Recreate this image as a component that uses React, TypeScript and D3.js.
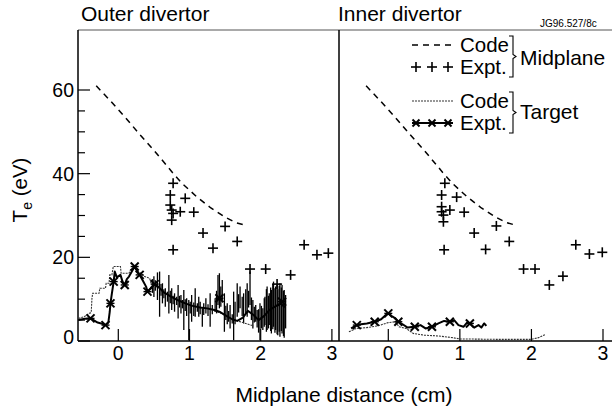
import React from "react";
import * as d3 from "d3";

// ---------- data ----------
const xTicks = [0, 1, 2, 3];
const yMajorTicks = [0, 20, 40, 60];
const yMinorTicks = [5, 10, 15, 25, 30, 35, 45, 50, 55];

// Midplane code (dashed), same in both panels
const midCode: [number, number][] = [
  [-0.31, 61], [-0.1, 57.2], [0.1, 53.4], [0.3, 49.4], [0.5, 45.6], [0.76, 40.3],
  [0.9, 37.6], [1.1, 34.5], [1.3, 31.8], [1.5, 29.6], [1.65, 28.3], [1.8, 27.6],
];

// Midplane experiment (+)
const midExptOuter: [number, number][] = [
  [0.77, 37.7], [0.73, 34.9], [0.94, 34.1], [0.73, 32.5], [0.75, 31.3], [0.87, 30.9],
  [0.77, 30.5], [0.75, 28.9], [1.06, 30.8], [0.77, 21.8], [1.19, 25.8], [1.33, 22.2],
  [1.5, 27.4], [1.67, 23.8], [1.85, 17.2], [2.07, 17.2], [2.23, 13.6], [2.42, 15.8],
  [2.61, 23.0], [2.79, 20.6], [2.95, 21.0],
];
const midExptInner: [number, number][] = [
  [0.79, 37.7], [0.745, 34.9], [0.955, 34.4], [0.745, 32.1], [0.86, 31.3], [0.745, 30.9],
  [0.77, 30.1], [0.77, 28.5], [1.06, 30.8], [0.78, 21.8], [1.2, 25.8], [1.36, 21.9],
  [1.51, 27.5], [1.69, 23.8], [1.89, 17.2], [2.05, 17.2], [2.25, 13.4], [2.44, 15.5],
  [2.62, 23.0], [2.81, 20.8], [2.99, 21.2],
];

// Target code (thin dotted)
const tgtCodeOuter: [number, number][] = [
  [-0.56, 5.4], [-0.48, 5.8], [-0.41, 6.6], [-0.38, 6.8], [-0.37, 10.2], [-0.36, 11.4],
  [-0.27, 11.4], [-0.26, 12.6], [-0.18, 12.6], [-0.17, 13.8], [-0.13, 13.8], [-0.12, 15.8],
  [-0.09, 15.8], [-0.07, 17.8], [0.03, 17.8], [0.04, 16.2], [0.15, 16.2], [0.17, 17.0],
  [0.23, 17.4], [0.3, 16.4], [0.37, 15.4], [0.44, 15.0], [0.46, 13.8], [0.55, 13.0],
  [0.7, 11.0], [0.9, 9.2], [1.1, 8.2], [1.3, 7.5], [1.45, 6.6], [1.6, 5.2], [1.75, 4.4], [1.9, 3.6],
];
const tgtCodeInner: [number, number][] = [
  [-0.55, 2.2], [-0.45, 3.0], [-0.3, 3.2], [-0.15, 3.6], [0.0, 4.4], [0.1, 4.6], [0.15, 3.4],
  [0.25, 3.0], [0.35, 1.8], [0.5, 1.4], [0.7, 1.2], [0.9, 0.8], [1.0, 0.5], [1.5, 0.4],
  [2.0, 0.4], [2.1, 0.8], [2.2, 1.6],
];

// Target experiment (thick line with x markers)
const tgtExptOuter: [number, number][] = [
  [-0.56, 5.0], [-0.47, 5.3], [-0.39, 5.4], [-0.33, 4.8], [-0.29, 4.4], [-0.24, 4.2],
  [-0.18, 3.8], [-0.14, 4.4], [-0.12, 7.0], [-0.11, 9.0], [-0.09, 11.4], [-0.065, 14.2],
  [-0.05, 16.6], [-0.02, 15.2], [0.03, 15.8], [0.06, 14.2], [0.09, 13.4], [0.12, 14.8],
  [0.15, 15.4], [0.19, 16.6], [0.23, 17.8], [0.27, 16.5], [0.3, 15.8], [0.34, 14.6],
  [0.39, 13.0], [0.41, 11.8], [0.45, 12.5], [0.51, 13.6], [0.56, 13.0], [0.64, 11.6],
  [0.74, 10.6], [0.83, 9.8], [0.94, 9.0], [1.04, 8.4], [1.15, 8.0], [1.25, 7.8], [1.35, 7.4],
  [1.42, 7.0], [1.5, 6.2], [1.6, 5.2], [1.67, 4.8], [1.75, 5.6], [1.82, 7.2], [1.9, 6.2],
  [1.97, 5.0], [2.05, 6.0], [2.12, 7.4], [2.2, 8.2], [2.28, 9.0], [2.34, 8.0],
];
const tgtExptOuterMarks: [number, number][] = [
  [-0.39, 5.4], [-0.18, 3.8], [-0.11, 9.0], [-0.065, 14.2], [0.09, 13.4], [0.23, 17.8],
  [0.3, 15.8], [0.41, 11.8], [0.51, 13.6], [1.42, 10.2], [2.3, 9.4],
];
// noisy probe signal: [x, low, high]
const tgtExptOuterSpikes: [number, number, number][] = [
  [0.48, 11.5, 14.8], [0.5, 10.5, 15.5], [0.52, 12.0, 14.5], [0.55, 9.8, 16.4], [0.58, 5.8, 16.6],
  [0.6, 10.8, 13.6], [0.62, 9.0, 13.8], [0.64, 10.2, 12.4], [0.66, 8.2, 12.6], [0.69, 9.4, 11.8],
  [0.71, 6.6, 15.8], [0.73, 9.0, 12.0], [0.75, 7.4, 12.6], [0.77, 8.8, 10.8], [0.79, 7.0, 11.4],
  [0.82, 8.6, 10.6], [0.84, 5.4, 13.4], [0.86, 8.0, 10.8], [0.88, 6.6, 11.0], [0.9, 7.8, 9.8],
  [0.92, 2.6, 12.2], [0.94, 7.2, 10.0], [0.96, 6.0, 10.2], [0.99, 0.2, 9.8], [1.01, 6.6, 9.4],
  [1.03, 4.6, 11.0], [1.06, 6.0, 9.2], [1.08, 5.8, 12.6], [1.11, 7.0, 9.0], [1.13, 5.8, 10.6],
  [1.15, 6.4, 9.4], [1.18, 3.4, 7.8], [1.2, 6.2, 9.0], [1.23, 6.6, 10.2], [1.26, 6.0, 8.8],
  [1.29, 3.4, 11.4], [1.32, 6.4, 8.6], [1.36, 7.0, 10.2], [1.38, 6.6, 12.0], [1.4, 8.6, 15.8],
  [1.42, 7.8, 16.2], [1.44, 8.2, 13.0], [1.46, 9.8, 14.6], [1.49, 2.2, 11.4], [1.51, 5.0, 8.4],
  [1.53, 4.0, 9.0], [1.55, 4.6, 7.2], [1.57, 3.0, 8.6], [1.6, 4.2, 6.4], [1.62, 0.2, 11.8],
  [1.64, 4.0, 9.4], [1.67, 5.8, 13.8], [1.69, 6.8, 11.2], [1.71, 7.8, 13.0], [1.74, 6.0, 10.6],
  [1.76, 4.2, 11.4], [1.79, 6.6, 12.4], [1.81, 5.8, 13.8], [1.83, 8.0, 12.0], [1.85, 8.6, 16.6],
  [1.87, 5.0, 10.4], [1.89, 3.0, 9.8], [1.91, 4.4, 8.2], [1.93, 4.6, 8.6], [1.95, 3.2, 7.4],
  [1.97, 2.0, 7.6], [1.99, 0.2, 9.0], [2.01, 3.0, 8.4], [2.03, 2.6, 7.8], [2.05, 3.4, 10.2],
  [2.06, 3.8, 10.6], [2.08, 2.2, 12.4], [2.09, 2.6, 13.0], [2.11, 3.0, 10.8], [2.12, 3.8, 11.4],
  [2.14, 2.4, 12.8], [2.15, 1.8, 12.2], [2.17, 2.8, 13.6], [2.18, 3.4, 14.2], [2.2, 2.0, 12.6],
  [2.21, 2.6, 13.0], [2.23, 1.6, 13.4], [2.24, 1.4, 12.4], [2.26, 2.2, 13.2], [2.27, 1.0, 13.8],
  [2.29, 2.4, 12.8], [2.3, 1.8, 13.4], [2.32, 1.2, 12.0], [2.33, 0.8, 12.2], [2.35, 3.0, 11.0],
];
const tgtExptInner: [number, number][] = [
  [-0.52, 3.0], [-0.44, 3.8], [-0.38, 4.0], [-0.3, 4.2], [-0.19, 4.6], [-0.1, 5.2],
  [-0.05, 6.0], [0.0, 6.6], [0.06, 5.8], [0.1, 5.4], [0.14, 4.6], [0.2, 4.0], [0.27, 3.2],
  [0.37, 3.4], [0.45, 3.8], [0.52, 3.0], [0.61, 3.4], [0.7, 4.2], [0.78, 4.8], [0.86, 4.6],
  [0.92, 5.0], [0.98, 3.8], [1.05, 3.4], [1.1, 4.4], [1.14, 4.2], [1.2, 3.2], [1.26, 3.8],
  [1.3, 3.2], [1.34, 4.2], [1.37, 3.6],
];
const tgtExptInnerMarks: [number, number][] = [
  [-0.44, 3.8], [-0.19, 4.6], [0.0, 6.6], [0.14, 4.6], [0.37, 3.4], [0.61, 3.4], [0.86, 4.6], [1.14, 4.2],
];

const panelTitles = ["Outer divertor", "Inner divertor"];
const legendRows = ["Code", "Expt.", "Code", "Expt."];
const legendGroups = ["Midplane", "Target"];

// ---------- layout ----------
const W = 612, H = 411;
const top = 30, bottom = 341, left = 78, mid = 339, right = 612;
const FONT = "'Liberation Sans', Arial, Helvetica, sans-serif";

const yS = d3.scaleLinear().domain([0, 60]).range([bottom, 90]);
const xL = d3.scaleLinear().domain([0, 3]).range([118.3, 331.9]);
const xR = d3.scaleLinear().domain([0, 3]).range([388.3, 603]);

function Plus({ x, y, s = 5 }: { x: number; y: number; s?: number }) {
  return (
    <g stroke="#000" strokeWidth={1.6}>
      <line x1={x - s} x2={x + s} y1={y} y2={y} />
      <line x1={x} x2={x} y1={y - s} y2={y + s} />
    </g>
  );
}
function Star({ x, y, s = 4 }: { x: number; y: number; s?: number }) {
  return (
    <g stroke="#000" strokeWidth={2}>
      <line x1={x - s} x2={x + s} y1={y - s} y2={y + s} />
      <line x1={x - s} x2={x + s} y1={y + s} y2={y - s} />
      <line x1={x - s} x2={x + s} y1={y} y2={y} strokeWidth={1.4} />
    </g>
  );
}

function Panel({
  xs, clipId, midExpt, tgtCode, tgtExpt, marks, spikes,
}: {
  xs: d3.ScaleLinear<number, number>;
  clipId: string;
  midExpt: [number, number][];
  tgtCode: [number, number][];
  tgtExpt: [number, number][];
  marks: [number, number][];
  spikes: [number, number, number][];
}) {
  const line = d3.line<[number, number]>().x((d) => xs(d[0])).y((d) => yS(d[1]));
  return (
    <g clipPath={`url(#${clipId})`}>
      <path d={line(midCode) || ""} fill="none" stroke="#000" strokeWidth={1.5} strokeDasharray="6 5" />
      {midExpt.map((d, i) => (
        <Plus key={i} x={xs(d[0])} y={yS(d[1])} />
      ))}
      {spikes.map((d, i) => (
        <line key={i} x1={xs(d[0])} x2={xs(d[0])} y1={yS(d[1])} y2={yS(d[2])} stroke="#000" strokeWidth={1.3} />
      ))}
      <path d={line(tgtCode) || ""} fill="none" stroke="#333" strokeWidth={1.1} strokeDasharray="2 1" />
      <path d={line(tgtExpt) || ""} fill="none" stroke="#000" strokeWidth={2} strokeLinejoin="round" />
      {marks.map((d, i) => (
        <Star key={i} x={xs(d[0])} y={yS(d[1])} />
      ))}
    </g>
  );
}

export default function App() {
  const legX0 = 412, legX1 = 453, legTextX = 460;
  const rowBase = [52, 74, 108, 130];
  const bracket = (y0: number, y1: number) => {
    const bx = 513;
    const ym = (y0 + y1) / 2;
    return `M${bx - 4},${y0} L${bx},${y0} L${bx},${ym - 2} L${bx + 3},${ym} L${bx},${ym + 2} L${bx},${y1} L${bx - 4},${y1}`;
  };
  return (
    <svg width={W} height={H} style={{ position: "absolute", left: 0, top: 0, background: "#fff" }} fontFamily={FONT}>
      <defs>
        <clipPath id="clipL"><rect x={left} y={top} width={mid - left} height={bottom - top} /></clipPath>
        <clipPath id="clipR"><rect x={mid} y={top} width={right - mid} height={bottom - top} /></clipPath>
      </defs>
      <rect x={0} y={0} width={W} height={H} fill="#fff" />

      {/* titles */}
      <text x={81} y={21} fontSize={21}>{panelTitles[0]}</text>
      <text x={338} y={21} fontSize={21}>{panelTitles[1]}</text>
      <text x={540} y={27} fontSize={10}>JG96.527/8c</text>

      {/* frame */}
      <line x1={left} x2={right} y1={top} y2={top} stroke="#555" strokeWidth={1} />
      <line x1={left} x2={left} y1={top} y2={bottom} stroke="#000" strokeWidth={1.5} />
      <line x1={mid} x2={mid} y1={top} y2={bottom} stroke="#000" strokeWidth={1.5} />
      <line x1={left} x2={right} y1={bottom} y2={bottom} stroke="#000" strokeWidth={1.5} />

      {/* y ticks */}
      {yMajorTicks.map((t) => (
        <g key={t}>
          <line x1={left} x2={left + 12} y1={yS(t)} y2={yS(t)} stroke="#000" strokeWidth={1.2} />
          <text x={74} y={yS(t) - (t === 0 ? 4 : 0)} fontSize={19.5} textAnchor="end" dominantBaseline="central">{t}</text>
        </g>
      ))}
      {yMinorTicks.map((t) => (
        <line key={t} x1={left} x2={left + 7} y1={yS(t)} y2={yS(t)} stroke="#000" strokeWidth={1.2} />
      ))}

      {/* x ticks */}
      {[xL, xR].map((xs, k) => (
        <g key={k}>
          {xTicks.map((t) => (
            <g key={t}>
              <line x1={xs(t)} x2={xs(t)} y1={bottom} y2={bottom - 12} stroke="#000" strokeWidth={1.2} />
              <text x={xs(t)} y={360} fontSize={19.5} textAnchor="middle">{t}</text>
            </g>
          ))}
        </g>
      ))}

      {/* data */}
      <Panel xs={xL} clipId="clipL" midExpt={midExptOuter} tgtCode={tgtCodeOuter} tgtExpt={tgtExptOuter}
        marks={tgtExptOuterMarks} spikes={tgtExptOuterSpikes} />
      <Panel xs={xR} clipId="clipR" midExpt={midExptInner} tgtCode={tgtCodeInner} tgtExpt={tgtExptInner}
        marks={tgtExptInnerMarks} spikes={[]} />

      {/* legend */}
      <line x1={legX0} x2={legX1} y1={rowBase[0] - 7} y2={rowBase[0] - 7} stroke="#000" strokeWidth={1.5} strokeDasharray="6 5" />
      {[0, 1, 2].map((i) => (
        <Plus key={i} x={416 + i * 16} y={rowBase[1] - 7} />
      ))}
      <line x1={legX0} x2={legX1} y1={rowBase[2] - 7} y2={rowBase[2] - 7} stroke="#333" strokeWidth={1.1} strokeDasharray="2 1" />
      <line x1={legX0} x2={legX1} y1={rowBase[3] - 7} y2={rowBase[3] - 7} stroke="#000" strokeWidth={1.8} />
      {[0, 1, 2].map((i) => (
        <Star key={i} x={416 + i * 16} y={rowBase[3] - 7} s={3.5} />
      ))}
      {legendRows.map((t, i) => (
        <text key={i} x={legTextX} y={rowBase[i]} fontSize={20.5}>{t}</text>
      ))}
      <path d={bracket(rowBase[0] - 16, rowBase[1] + 3)} fill="none" stroke="#000" strokeWidth={1.1} />
      <path d={bracket(rowBase[2] - 16, rowBase[3] + 3)} fill="none" stroke="#000" strokeWidth={1.1} />
      <text x={520} y={65} fontSize={21}>{legendGroups[0]}</text>
      <text x={520} y={119} fontSize={21}>{legendGroups[1]}</text>

      {/* axis labels */}
      <text transform="translate(27,190) rotate(-90)" fontSize={20.5} textAnchor="middle">
        T<tspan dy={5} fontSize={14}>e</tspan><tspan dy={-5}> (eV)</tspan>
      </text>
      <text x={344} y={402} fontSize={21} textAnchor="middle">Midplane distance (cm)</text>
    </svg>
  );
}
